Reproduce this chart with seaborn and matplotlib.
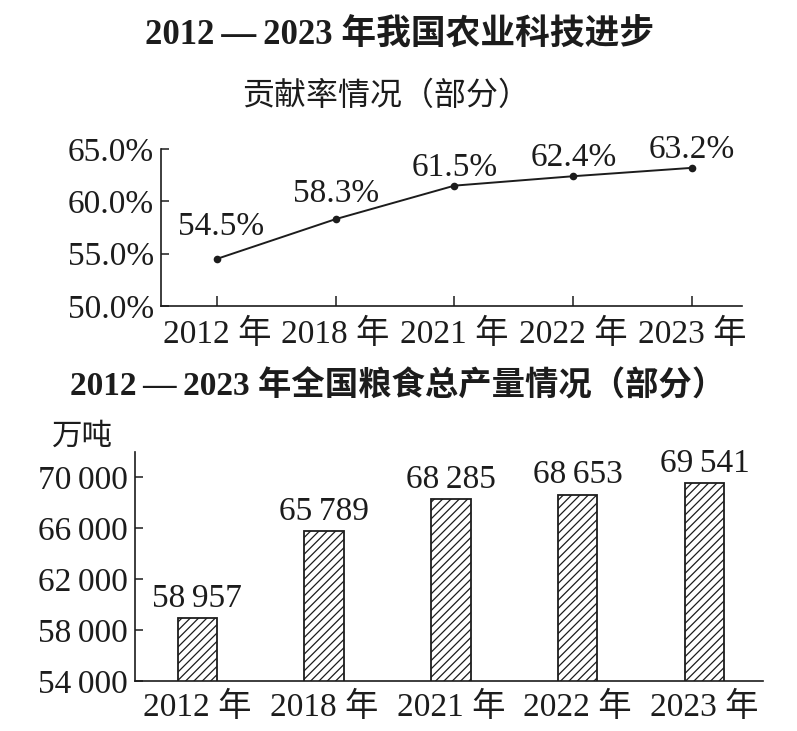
import matplotlib
matplotlib.use("Agg")
import matplotlib.pyplot as plt
import seaborn as sns
import pandas as pd

# data
years = ["2012 年", "2018 年", "2021 年", "2022 年", "2023 年"]
contribution_rate = [54.5, 58.3, 61.5, 62.4, 63.2]
grain_output = [58957, 65789, 68285, 68653, 69541]
rate_ticks = [50.0, 55.0, 60.0, 65.0]
output_ticks = [54000, 58000, 62000, 66000, 70000]

title_top_1 = "2012\u2009—\u20092023 年我国农业科技进步"
title_top_2 = "贡献率情况（部分）"
title_bottom = "2012\u2009—\u20092023 年全国粮食总产量情况（部分）"
unit_label = "万吨"

INK = "#1c1c1c"

sns.set_theme(style="ticks")
plt.rcParams["font.family"] = ["Liberation Serif", "Noto Sans CJK SC"]
plt.rcParams["text.color"] = INK
plt.rcParams["axes.edgecolor"] = INK
plt.rcParams["xtick.color"] = INK
plt.rcParams["ytick.color"] = INK
plt.rcParams["hatch.linewidth"] = 0.9
plt.rcParams["hatch.color"] = INK

W, H = 797, 731
fig = plt.figure(figsize=(W / 100, H / 100), dpi=100)
fig.patch.set_facecolor("white")


def px_axes(left, top, right, bottom):
    return fig.add_axes([left / W, 1 - bottom / H, (right - left) / W, (bottom - top) / H])


# titles
fig.text(400 / W, 1 - 36 / H, title_top_1, ha="center", va="center", fontsize=25, weight="bold")
fig.text(386 / W, 1 - 97 / H, title_top_2, ha="center", va="center", fontsize=23)
fig.text(398 / W, 1 - 386 / H, title_bottom, ha="center", va="center", fontsize=24, weight="bold")

# top chart: line
rate_df = pd.DataFrame({"year": years, "rate": contribution_rate})
ax1 = px_axes(161, 149, 742, 306)
sns.lineplot(data=rate_df, x="year", y="rate", color=INK, linewidth=1.4,
             marker="o", markersize=5.5, markeredgewidth=0, sort=False, ax=ax1)
ax1.set_xlim(-0.47, 4.42)
ax1.set_ylim(50, 65)
ax1.set_yticks(rate_ticks)
ax1.set_yticklabels([f"{v:.1f}%" for v in rate_ticks])
ax1.set_xlabel("")
ax1.set_ylabel("")
ax1.tick_params(axis="both", direction="in", labelsize=24, width=1.1)
ax1.tick_params(axis="y", length=6, pad=5)
ax1.tick_params(axis="x", length=7, pad=9)
for side in ("top", "right"):
    ax1.spines[side].set_visible(False)
for side in ("left", "bottom"):
    ax1.spines[side].set_linewidth(1.2)

label_lift = [12, 7, 2, 2, 2]
for i, (v, lift) in enumerate(zip(contribution_rate, label_lift)):
    ax1.annotate(f"{v:.1f}%", (i, v), xytext=(3 if i == 0 else 0, lift),
                 textcoords="offset points", ha="center", va="bottom", fontsize=24)

# bottom chart: bars
grain_df = pd.DataFrame({"year": years, "output": grain_output})
ax2 = px_axes(135, 452, 763, 681)
sns.barplot(data=grain_df, x="year", y="output", color="white", edgecolor=INK,
            linewidth=1.3, width=0.31, hatch="////", saturation=1, ax=ax2)
ax2.set_xlim(-0.49, 4.46)
ax2.set_ylim(54000, 72000)
ax2.set_yticks(output_ticks)
ax2.set_yticklabels([f"{v:,}".replace(",", "\u2009") for v in output_ticks])
ax2.set_xlabel("")
ax2.set_ylabel("")
ax2.tick_params(axis="both", direction="in", labelsize=24, width=1.1)
ax2.tick_params(axis="y", length=6, pad=5)
ax2.tick_params(axis="x", length=0, pad=8)
for side in ("top", "right"):
    ax2.spines[side].set_visible(False)
for side in ("left", "bottom"):
    ax2.spines[side].set_linewidth(1.2)

ax2.bar_label(ax2.containers[0],
              labels=[f"{v:,}".replace(",", "\u2009") for v in grain_output],
              padding=3, fontsize=24)

fig.text(82 / W, 1 - 437 / H, unit_label, ha="center", va="center", fontsize=22)

fig.savefig("out.png", dpi=100, facecolor="white")
